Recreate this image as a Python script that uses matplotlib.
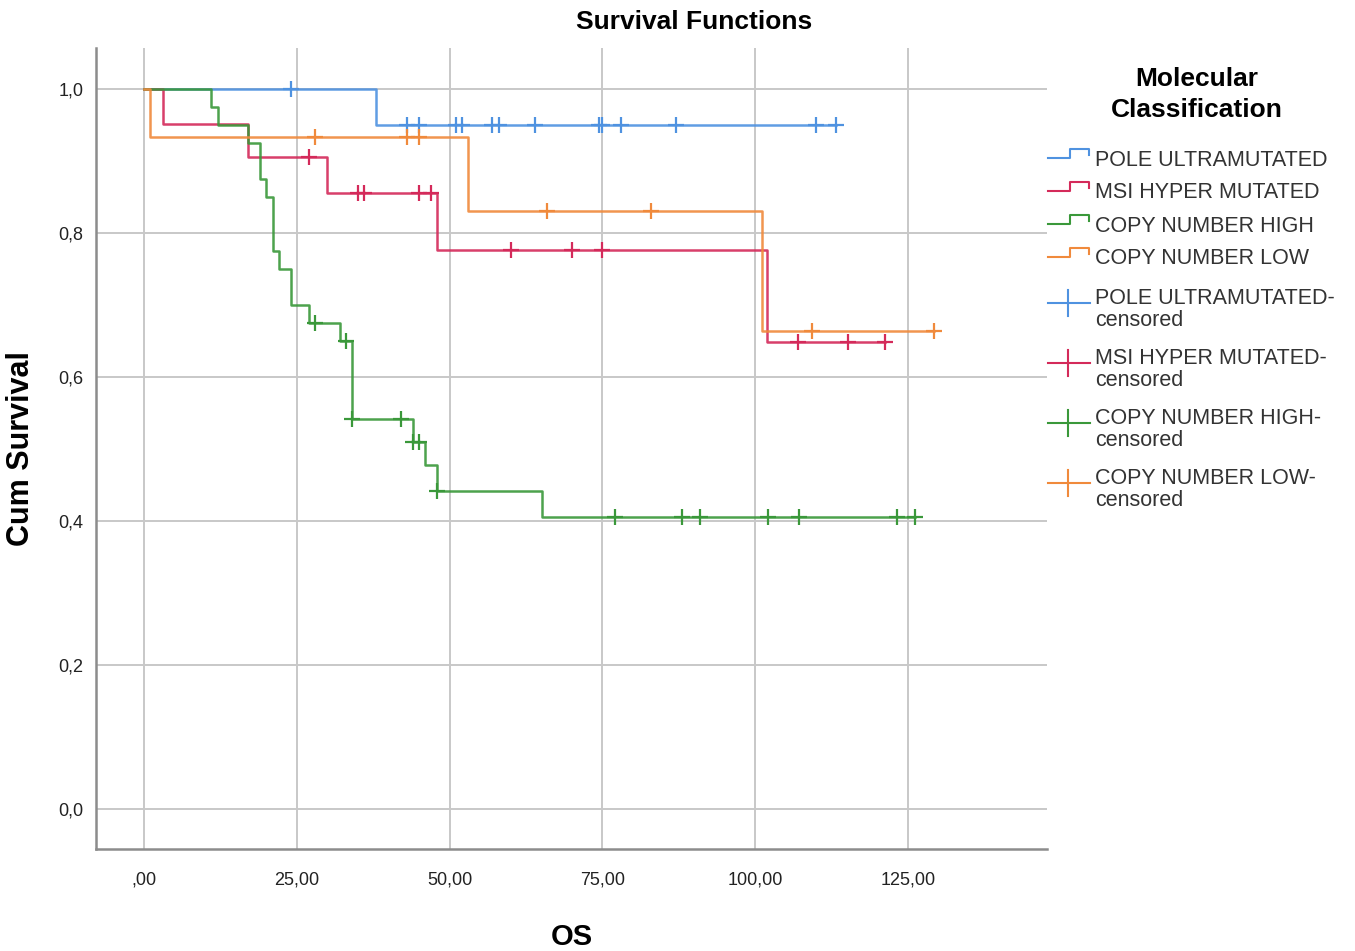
import numpy as np
import matplotlib
matplotlib.use("Agg")
import matplotlib.pyplot as plt

plt.rcParams["font.family"] = ["Liberation Sans", "DejaVu Sans"]

# Kaplan-Meier steps: time of each step and survival after it
pole_t = [0, 38]
pole_s = [1.0, 0.95]
pole_cens = [24, 43, 45, 51, 52, 57, 58, 64, 74.5, 75, 78, 87, 110, 113.3]

msi_t = [0, 3, 17, 30, 48, 102]
msi_s = [1.0, 0.952, 0.905, 0.855, 0.776, 0.648]
msi_cens = [27, 35, 36, 45, 47, 60, 70, 75, 107, 115.3, 121.3]

cnh_t = [0, 11, 12, 17, 19, 20, 21, 22, 24, 27, 32, 34, 44, 46, 48, 65.2]
cnh_s = [1.0, 0.975, 0.95, 0.925, 0.875, 0.85, 0.775, 0.75, 0.70, 0.675,
         0.65, 0.541, 0.51, 0.477, 0.442, 0.406]
cnh_cens = [28, 33, 34, 42, 44, 45, 48, 77, 88, 91, 102.2, 107.2, 123.2, 126.2]

cnl_t = [0, 1, 53, 101.2]
cnl_s = [1.0, 0.933, 0.831, 0.664]
cnl_cens = [28, 43, 45, 66, 83, 109.3, 129.3]

groups = ["POLE ULTRAMUTATED", "MSI HYPER MUTATED", "COPY NUMBER HIGH", "COPY NUMBER LOW"]
colors = ["#4f92e0", "#d42a5a", "#3a983a", "#f08a3c"]

x_ticks = [0, 25, 50, 75, 100, 125]
x_labels = [",00", "25,00", "50,00", "75,00", "100,00", "125,00"]
y_ticks = [0.0, 0.2, 0.4, 0.6, 0.8, 1.0]
y_labels = ["0,0", "0,2", "0,4", "0,6", "0,8", "1,0"]

W, H = 1355, 951
fig = plt.figure(figsize=(W / 100, H / 100), dpi=100)
ax = fig.add_axes([96 / W, 1 - 849 / H, (1047 - 96) / W, (849 - 48) / H])

series = [(pole_t, pole_s, pole_cens), (msi_t, msi_s, msi_cens),
          (cnh_t, cnh_s, cnh_cens), (cnl_t, cnl_s, cnl_cens)]
for (t, s, c), col in zip(series, colors):
    t = np.array(t, dtype=float)
    s = np.array(s, dtype=float)
    c = np.array(c, dtype=float)
    end = max(t[-1], c.max())
    ax.step(np.append(t, end), np.append(s, s[-1]), where="post",
            color=col, lw=1.8, alpha=0.9, zorder=3)
    cs = s[np.searchsorted(t, c, side="right") - 1]
    ax.plot(c, cs, "+", color=col, ms=12, mew=1.6, zorder=4)

ax.set_xlim(-7.9, 147.8)
ax.set_ylim(-0.056, 1.057)
ax.set_xticks(x_ticks)
ax.set_xticklabels(x_labels)
ax.set_yticks(y_ticks)
ax.set_yticklabels(y_labels)
ax.tick_params(length=0, labelsize=13, colors="#222222")
ax.tick_params(axis="x", pad=16)
ax.tick_params(axis="y", pad=9)
ax.grid(True, color="#c8c8c8", lw=1.4)
ax.set_axisbelow(True)
for side in ["top", "right"]:
    ax.spines[side].set_visible(False)
for side in ["left", "bottom"]:
    ax.spines[side].set_color("#8c8c8c")
    ax.spines[side].set_linewidth(1.8)

ax.set_xlabel("OS", fontsize=21, fontweight="bold", labelpad=25)
ax.set_ylabel("Cum Survival", fontsize=22, fontweight="bold", labelpad=16)
fig.text(694 / W, 1 - 22 / H, "Survival Functions", fontsize=19,
         fontweight="bold", ha="center", va="center")

# legend drawn in pixel coordinates on an overlay
lg = fig.add_axes([0, 0, 1, 1])
lg.set_xlim(0, W)
lg.set_ylim(H, 0)
lg.axis("off")
lg.text(1197, 79, "Molecular", fontsize=19, fontweight="bold", ha="center", va="center")
lg.text(1197, 110, "Classification", fontsize=19, fontweight="bold", ha="center", va="center")

step_y = [158, 191, 224, 257]
for name, col, y in zip(groups, colors, step_y):
    lg.plot([1048, 1070, 1070, 1089, 1089], [y, y, y - 9, y - 9, y - 3],
            color=col, lw=1.5)
    lg.text(1095, y + 2, name, fontsize=15.5, color="#333333", va="center")

plus_y = [303, 363, 423, 483]
for name, col, y in zip(groups, colors, plus_y):
    lg.plot([1048, 1090], [y, y], color=col, lw=1.5)
    lg.plot([1068, 1068], [y - 13, y + 13], color=col, lw=1.5)
    lg.text(1095, y - 5, name + "-", fontsize=15.5, color="#333333", va="center")
    lg.text(1095, y + 18, "censored", fontsize=15.5, color="#333333", va="center")

fig.savefig("out.png", dpi=100)
